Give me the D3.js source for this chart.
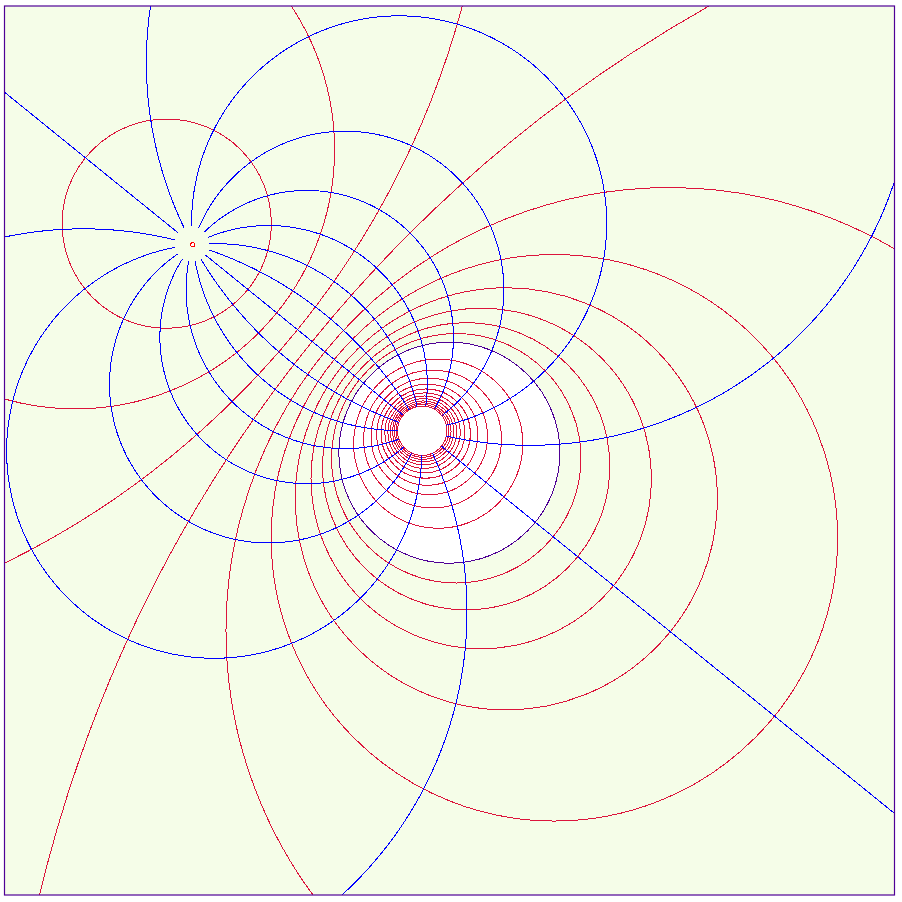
<!DOCTYPE html>
<html><head><meta charset="utf-8">
<script src="https://cdn.jsdelivr.net/npm/d3@7"></script>
<style>html,body{margin:0;padding:0;background:#fff;} svg{display:block;}</style>
</head><body>
<svg id="chart" width="902" height="902"></svg>
<script>
// ---- data ----
const poleA = [-0.5771, 0.4630];   // image of w = 0 (red marker)
const poleB = [-0.0648, 0.0474];   // image of w = infinity (centre of the hole)
const scaleK = 2.99;               // |w| = 1  <->  |z-A|/|z-B| = scaleK
const outerRadii = [0.107, 0.195, 0.2828, 0.3716, 0.463, 0.55, 0.64, 0.73, 0.82, 0.91];
const unitRadius = [1.0];
const innerRadii = [1.25, 1.5, 1.75, 2.0, 2.25, 2.5, 2.75, 3.0, 3.25, 3.5, 3.75, 4.0];
const rayAngles = [0, 22.5, 45, 67.5, 90, 112.5, 135, 157.5, 180, 202.5, 225, 247.5, 270, 292.5, 315, 337.5];
const rayExtent = [0.02, 4.0];
const xDomain = [-1, 1], yDomain = [1, -1];

// ---- setup ----
const svg = d3.select("#chart");
const frame = {x: 4.5, y: 6, w: 890, h: 889};
const x = d3.scaleLinear().domain(xDomain).range([frame.x, frame.x + frame.w]);
const y = d3.scaleLinear().domain(yDomain).range([frame.y, frame.y + frame.h]);
const pxPerUnit = (x(1) - x(0));

const bg = "#f5fde8", red = "#dc143c", blue = "#0000ff", purple = "#4f0096";

svg.append("defs").append("clipPath").attr("id", "clip")
  .append("rect").attr("x", frame.x).attr("y", frame.y).attr("width", frame.w).attr("height", frame.h);

svg.append("rect").attr("x", frame.x).attr("y", frame.y).attr("width", frame.w).attr("height", frame.h)
  .attr("fill", bg);

const g = svg.append("g").attr("clip-path", "url(#clip)").attr("shape-rendering", "crispEdges");

function circleFor(r) {
  const rho = scaleK * r, rho2 = rho * rho;
  const cx = (rho2 * poleB[0] - poleA[0]) / (rho2 - 1);
  const cy = (rho2 * poleB[1] - poleA[1]) / (rho2 - 1);
  const dist = Math.hypot(poleA[0] - poleB[0], poleA[1] - poleB[1]);
  const R = rho * dist / Math.abs(rho2 - 1);
  return {cx, cy, R};
}
function toZ(r, deg) {
  const t = deg * Math.PI / 180;
  const wr = scaleK * r * Math.cos(t), wi = scaleK * r * Math.sin(t);
  const nr = wr * poleB[0] - wi * poleB[1] - poleA[0];
  const ni = wr * poleB[1] + wi * poleB[0] - poleA[1];
  const dr = wr - 1, di = wi;
  const den = dr * dr + di * di;
  return [(nr * dr + ni * di) / den, (ni * dr - nr * di) / den];
}

// white interior of the unit circle image
const uc = circleFor(unitRadius[0]);
g.append("circle").attr("cx", x(uc.cx)).attr("cy", y(uc.cy)).attr("r", uc.R * pxPerUnit)
  .attr("fill", "#ffffff").attr("stroke", "none");

// red circles
g.selectAll("circle.red").data(outerRadii.concat(innerRadii)).join("circle")
  .attr("class", "red")
  .each(function(r) {
    const c = circleFor(r);
    d3.select(this).attr("cx", x(c.cx)).attr("cy", y(c.cy)).attr("r", c.R * pxPerUnit);
  })
  .attr("fill", "none").attr("stroke", red).attr("stroke-width", 1);

// purple unit circle
g.append("circle").attr("cx", x(uc.cx)).attr("cy", y(uc.cy)).attr("r", uc.R * pxPerUnit)
  .attr("fill", "none").attr("stroke", purple).attr("stroke-width", 1);

// blue rays
const N = 3000;
const lr0 = Math.log(rayExtent[0]), lr1 = Math.log(rayExtent[1]);
const line = d3.line()
  .defined(p => Math.abs(p[0]) < 1e5 && Math.abs(p[1]) < 1e5)
  .x(p => p[0]).y(p => p[1]);
g.selectAll("path.ray").data(rayAngles).join("path")
  .attr("class", "ray")
  .attr("d", deg => {
    const pts = [];
    for (let i = 0; i <= N; i++) {
      const r = Math.exp(lr0 + (lr1 - lr0) * i / N);
      const z = toZ(r, deg);
      pts.push([x(z[0]), y(z[1])]);
    }
    return line(pts);
  })
  .attr("fill", "none").attr("stroke", blue).attr("stroke-width", 1);

// marker at pole A
svg.append("circle").attr("cx", x(poleA[0])).attr("cy", y(poleA[1])).attr("r", 2)
  .attr("fill", "#ffffff").attr("stroke", "#ff0000").attr("stroke-width", 1)
  .attr("shape-rendering", "crispEdges");

// frame
svg.append("rect").attr("x", frame.x).attr("y", frame.y).attr("width", frame.w).attr("height", frame.h)
  .attr("fill", "none").attr("stroke", purple).attr("stroke-width", 1.2);
</script>
</body></html>
